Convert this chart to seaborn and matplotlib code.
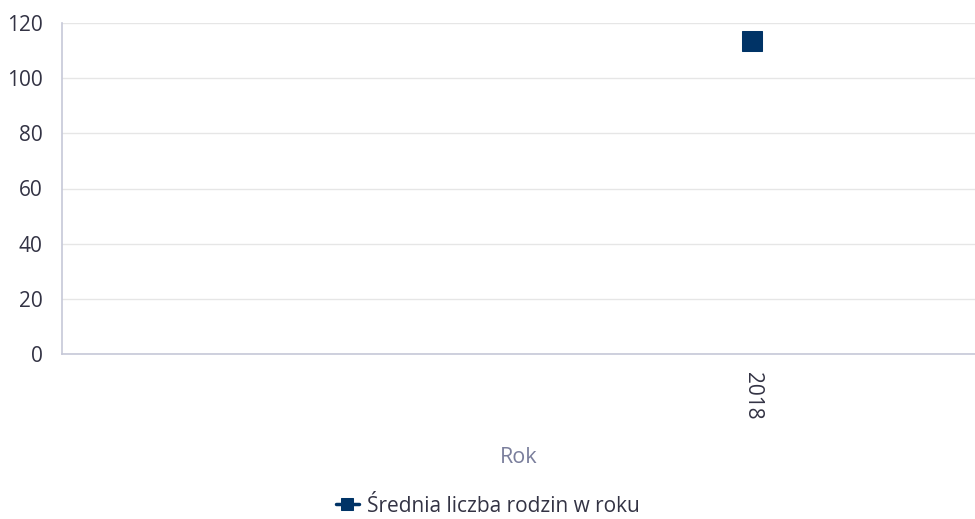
import matplotlib
matplotlib.use("Agg")
import matplotlib.pyplot as plt
import seaborn as sns
import pandas as pd

years = [2018]
families = [113.5]
series_name = "Średnia liczba rodzin w roku"

sns.set_style("white")
plt.rcParams["font.family"] = ["Open Sans", "DejaVu Sans"]

df = pd.DataFrame({"Rok": years, "val": families})

fig = plt.figure(figsize=(9.75, 5.19), dpi=100)
ax = fig.add_axes([62 / 975, 1 - 354 / 519, (975 - 62) / 975, (354 - 23) / 519])

sns.lineplot(data=df, x="Rok", y="val", marker="s", markersize=15,
             color="#003366", markeredgecolor="#003366", linewidth=2.5,
             label=series_name, ax=ax)

ax.set_ylim(0, 120)
ax.set_yticks(range(0, 121, 20))
ax.set_xlim(2018 - 0.756, 2018 + 0.244)
ax.set_xticks(years)
ax.set_xticklabels([str(y) for y in years], rotation=-90)
ax.grid(axis="y", color="#e6e6e6", linewidth=1)
ax.set_axisbelow(True)

for s in ["top", "right"]:
    ax.spines[s].set_visible(False)
for s in ["left", "bottom"]:
    ax.spines[s].set_color("#c6c8d8")
    ax.spines[s].set_linewidth(1.2)

ax.tick_params(axis="both", length=0, labelsize=15, colors="#333344")
ax.tick_params(axis="y", pad=14)
ax.tick_params(axis="x", pad=13)
ax.set_ylabel("")
ax.set_xlabel("Rok", fontsize=15.5, color="#7a7e9c", labelpad=20)

ax.get_legend().remove()
handles, labels = ax.get_legend_handles_labels()
leg = fig.legend(handles, labels, loc="center", bbox_to_anchor=(488 / 975, 1 - 506 / 519),
                 frameon=False, fontsize=15, handlelength=1.1, handletextpad=0.4)
for t in leg.get_texts():
    t.set_color("#333344")
for h in leg.legend_handles:
    h.set_markersize(9)

fig.savefig("out.png", dpi=100)
